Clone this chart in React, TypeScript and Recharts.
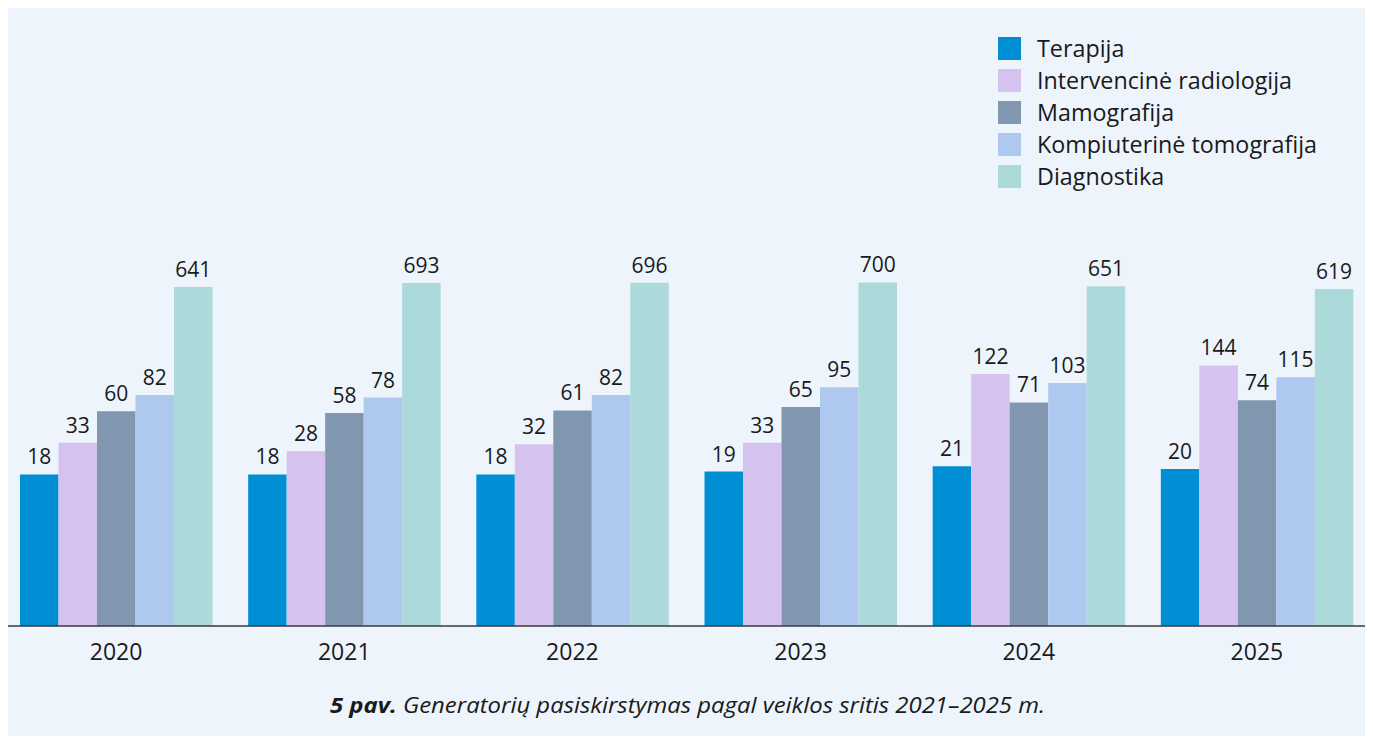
import React from 'react';
import { BarChart, Bar, XAxis, YAxis, Legend, LabelList } from 'recharts';

const years = ['2020', '2021', '2022', '2023', '2024', '2025'];
const terapija = [18, 18, 18, 19, 21, 20];
const intervencine = [33, 28, 32, 33, 122, 144];
const mamografija = [60, 58, 61, 65, 71, 74];
const kompiuterine = [82, 78, 82, 95, 103, 115];
const diagnostika = [641, 693, 696, 700, 651, 619];
const logTicks = [1, 10, 100, 1000, 10000];

const series = [
  { key: 'terapija', name: 'Terapija', color: '#008fd5', values: terapija },
  { key: 'intervencine', name: 'Intervencinė radiologija', color: '#d6c2ee', values: intervencine },
  { key: 'mamografija', name: 'Mamografija', color: '#8197b0', values: mamografija },
  { key: 'kompiuterine', name: 'Kompiuterinė tomografija', color: '#aec8f0', values: kompiuterine },
  { key: 'diagnostika', name: 'Diagnostika', color: '#acd9da', values: diagnostika },
];

const data = years.map((year, i) => {
  const row: Record<string, string | number> = { year };
  series.forEach((s) => {
    row[s.key] = s.values[i];
  });
  return row;
});

const FONT = '"Open Sans", "Noto Sans", sans-serif';
const TEXT = '#1a1a1a';

const LegendBox = () => (
  <div style={{ fontFamily: FONT }}>
    {series.map((s) => (
      <div key={s.key} style={{ display: 'flex', alignItems: 'center', height: 32 }}>
        <div style={{ width: 23, height: 23, background: s.color, marginRight: 16 }} />
        <span style={{ fontSize: 23.3, color: TEXT, lineHeight: '32px' }}>{s.name}</span>
      </div>
    ))}
  </div>
);

const App: React.FC = () => {
  return (
    <div style={{ position: 'relative', width: 1373, height: 744, margin: -8, background: '#fff' }}>
      <div
        style={{
          position: 'absolute',
          left: 6,
          top: 8,
          width: 1362,
          height: 736,
          background: '#edf4fb',
          overflow: 'hidden',
        }}
      >
        <div style={{ position: 'absolute', left: -6, top: -8 }}>
          <BarChart
            width={1373}
            height={744}
            data={data}
            barSize={38.5}
            barGap={0}
            margin={{ top: 143, right: 2, left: 2, bottom: 78 }}
          >
            <XAxis
              dataKey="year"
              height={40}
              tickLine={false}
              tickSize={0}
              tickMargin={18}
              axisLine={{ stroke: '#3a3a3a', strokeWidth: 1.5 }}
              tick={{ fill: TEXT, fontSize: 23, fontFamily: FONT }}
            />
            <YAxis
              hide
              type="number"
              scale="log"
              domain={[1, 10000]}
              ticks={logTicks}
              allowDataOverflow
            />
            <Legend
              layout="horizontal"
              verticalAlign="middle"
              align="center"
              content={<LegendBox />}
              wrapperStyle={{ position: 'absolute', left: 998, top: 32, width: 360 }}
            />
            {series.map((s) => (
              <Bar key={s.key} dataKey={s.key} name={s.name} fill={s.color} isAnimationActive={false}>
                <LabelList
                  dataKey={s.key}
                  position="top"
                  offset={10}
                  fill={TEXT}
                  fontSize={21}
                  fontFamily={FONT}
                />
              </Bar>
            ))}
          </BarChart>
        </div>
      </div>
      <svg width={1373} height={744} style={{ position: 'absolute', left: 0, top: 0, pointerEvents: 'none' }}>
        <text
          x={330}
          y={713}
          textLength={715}
          lengthAdjust="spacingAndGlyphs"
          fontFamily={FONT}
          fontSize={22}
          fontStyle="italic"
          fill={TEXT}
        >
          <tspan fontWeight="bold">5 pav.</tspan> Generatorių pasiskirstymas pagal veiklos sritis 2021–2025 m.
        </text>
      </svg>
    </div>
  );
};

export default App;
